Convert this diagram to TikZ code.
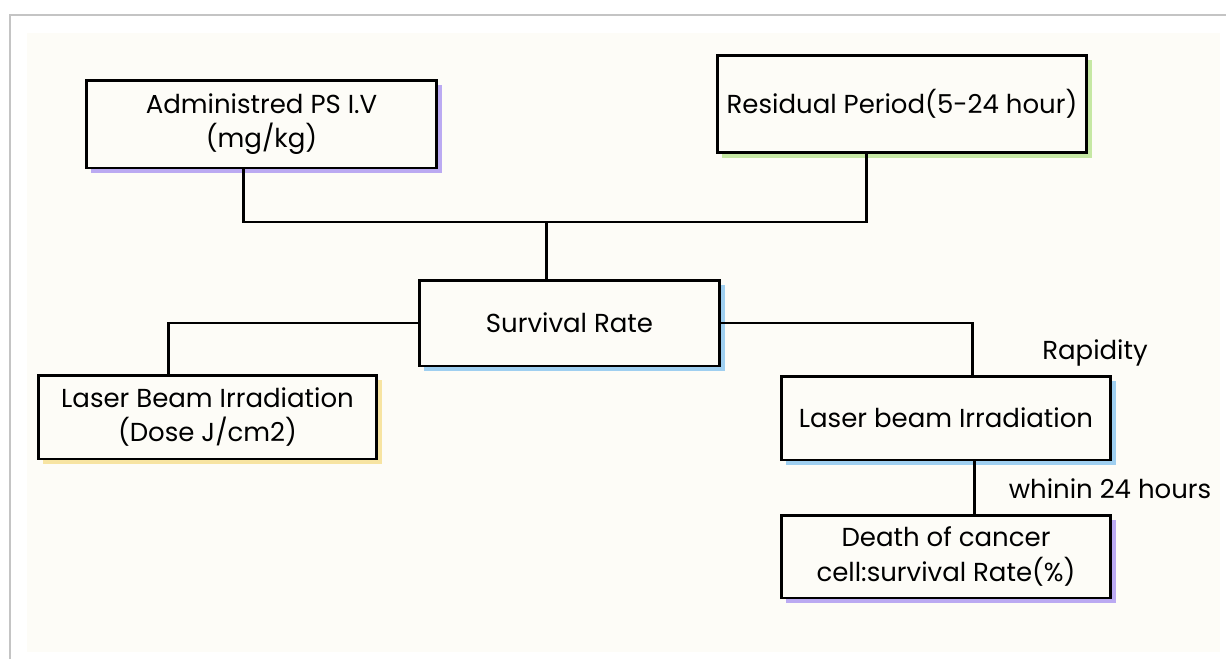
\documentclass[tikz,border=0pt]{standalone}
\usepackage{fontspec}
\setmainfont{Poppins}
\usetikzlibrary{shadows,calc}
\definecolor{paper}{HTML}{FDFCF7}
\definecolor{lilac}{HTML}{BBAAF2}
\definecolor{leaf}{HTML}{C6E8A4}
\definecolor{sky}{HTML}{9FCFF0}
\definecolor{straw}{HTML}{F7E4A2}
\definecolor{edge}{HTML}{C4C4C4}

\begin{document}
\begin{tikzpicture}[x=0.02cm,y=-0.02cm,line width=1.7pt,
	box/.style={draw,fill=paper,line width=1.7pt,align=center,inner sep=0pt,font=\fontsize{14.8}{19.5}\selectfont},
	shade/.style={drop shadow={shadow xshift=0.1cm,shadow yshift=-0.1cm,fill=#1,opacity=1}},
	lbl/.style={font=\fontsize{14.8}{19.5}\selectfont}]
	\useasboundingbox (0,0) rectangle (1226,659);
	\fill[white] (0,0) rectangle (1226,659);
	\draw[edge,line width=0.8pt] (10,659) -- (10,15) -- (1226,15);
	\fill[paper] (27,33) rectangle (1220,652);

	\node[box,shade=lilac,minimum width=7.02cm,minimum height=1.76cm] (PS) at (261.5,124) {Administred PS I.V\\(mg/kg)};
	\node[box,shade=leaf,minimum width=7.4cm,minimum height=1.96cm] (RP) at (902,104) {Residual Period(5-24 hour)};
	\node[box,shade=sky,minimum width=6.02cm,minimum height=1.72cm] (SR) at (569.5,323) {Survival Rate};
	\node[box,shade=straw,minimum width=6.78cm,minimum height=1.68cm] (LB1) at (207.5,417) {Laser Beam Irradiation\\(Dose J/cm2)};
	\node[box,shade=sky,minimum width=6.6cm,minimum height=1.68cm] (LB2) at (946,418) {Laser beam Irradiation};
	\node[box,shade=lilac,minimum width=6.6cm,minimum height=1.66cm] (D) at (946,556.5) {Death of cancer\\cell:survival Rate(\%)};

	\node[lbl] (R) at (1095,353) {Rapidity};
	\node[lbl] (W) at (1110,489) {whinin 24 hours};

	\coordinate (J) at (546,222);
	\draw ($(PS.south)+(-18,0)$) |- (J) -| ($(RP.south)+(-36,0)$);
	\draw (J) -- (J |- SR.north);
	\draw (SR.west) -| ($(LB1.north)+(-39,0)$);
	\draw (SR.east) -| ($(LB2.north)+(26,0)$);
	\draw ($(LB2.south)+(28,0)$) -- ($(D.north)+(28,0)$);
\end{tikzpicture}
\end{document}
